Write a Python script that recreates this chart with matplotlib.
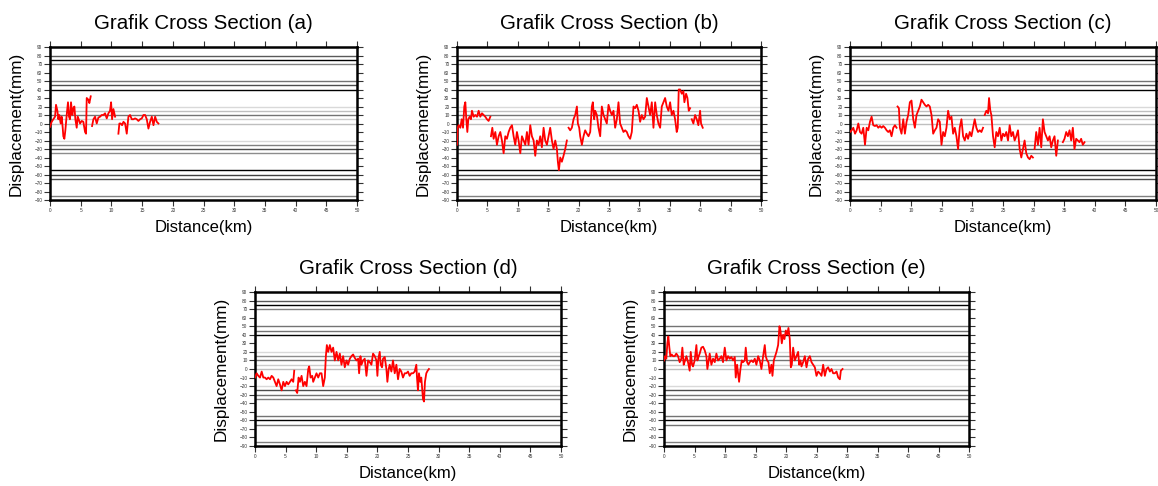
import numpy as np
import matplotlib.pyplot as plt

nan = np.nan

# panel (a)
dist_a = [0.0, 0.27, 0.54, 0.82, 0.98, 1.2, 1.36, 1.52, 1.74, 1.9, 2.07, 2.17, 2.34, 2.5, 2.72, 2.93,
          3.1, 3.26, 3.42, 3.64, 3.8, 3.97, 4.13, 4.35, 4.51, 4.67, 4.89, 5.16, 5.43, 5.71, 5.87, 5.98,
          6.25, 6.41, 6.63, 6.75, 6.85, 7.07, 7.34, 7.61, 7.88, 8.15, 8.42, 8.7, 8.97, 9.24, 9.51, 9.78,
          9.95, 10.11, 10.33, 10.6, 10.9, 11.14, 11.3, 11.52, 11.74, 11.96, 12.23, 12.5, 12.77, 13.04,
          13.32, 13.59, 13.86, 14.13, 14.4, 14.67, 14.95, 15.22, 15.49, 15.76, 16.03, 16.3, 16.58,
          16.85, 17.12, 17.39, 17.66]
disp_a = [-4, 2, 5, 8, 22, 15, 5, 10, 0, 8, -5, -15, -18, -8, 10, 25,
          8, 5, 25, 10, 18, 20, 5, -5, 8, 5, 0, 3, 2, -10, -12, 30,
          28, 24, 32, nan, -3, 5, 8, 0, 7, 8, 10, 10, 12, 6, 12, 15,
          25, 5, 17, 8, nan, -12, 0, 0, -2, 2, 0, -12, 8, 10,
          5, 5, 6, 5, 3, 5, 6, 10, 10, 5, -6, 2, 8,
          -2, 8, 2, 0]

# panel (b)
dist_b = [0, 0.11, 0.27, 0.55, 0.77, 0.99, 1.2, 1.37, 1.53, 1.7, 1.86, 2.08, 2.3, 2.46, 2.74, 3.01,
          3.29, 3.56, 3.83, 4.11, 4.38, 4.65, 4.93, 5.2, 5.48, 5.54, 5.59, 5.81, 6.02, 6.3, 6.57, 6.85,
          7.12, 7.39, 7.67, 7.94, 8.21, 8.49, 8.76, 9.04, 9.31, 9.58, 9.86, 10.13, 10.41, 10.68,
          10.95, 11.23, 11.5, 11.77, 12.05, 12.32, 12.6, 12.87, 13.14, 13.42, 13.69, 13.96, 14.24,
          14.51, 14.79, 15.06, 15.33, 15.61, 15.88, 16.16, 16.43, 16.59, 16.76, 16.98, 17.25, 17.52,
          17.8, 18.07, 18.2, 18.35, 18.62, 18.89, 19.17, 19.44, 19.72, 19.88, 20.1, 20.26, 20.54,
          20.81, 21.08, 21.36, 21.63, 21.91, 22.18, 22.34, 22.56, 22.73, 23.0, 23.27, 23.55, 23.82,
          24.1, 24.37, 24.64, 24.92, 25.19, 25.47, 25.74, 26.01, 26.29, 26.56, 26.83, 27.11, 27.38,
          27.66, 27.93, 28.2, 28.48, 28.75, 29.03, 29.3, 29.57, 29.85, 30.12, 30.39, 30.67, 30.94,
          31.22, 31.49, 31.76, 32.04, 32.31, 32.59, 32.86, 33.13, 33.41, 33.68, 33.95, 34.23, 34.5,
          34.78, 35.05, 35.32, 35.6, 35.87, 36.14, 36.31, 36.47, 36.69, 36.97, 37.24, 37.4, 37.68,
          37.9, 38.12, 38.34, 38.48, 38.61, 38.88, 39.16, 39.43, 39.7, 39.98, 40.14, 40.42]
disp_b = [-25, -5, -2, -5, 5, -5, 20, 25, 5, -10, 5, 8, 5, 15, 8, 10,
          8, 15, 8, 12, 10, 8, 5, 3, 8, nan, -15, -5, -18, -10, -25, -15,
          -10, -20, -35, -15, -18, -10, -5, -2, -15, -25, -10, -20, -35, -15,
          -20, -25, -10, -25, -2, -15, -20, -38, -20, -25, -15, -28, -5,
          -20, -25, -15, -5, -20, -30, -20, -30, -45, -55, -40, -45, -38,
          -30, -20, nan, -5, -8, -5, 5, 10, 20, 0, -5, -15, -25,
          -15, -8, -12, -15, -10, 20, 25, 5, 15, 10, -5, -15, 20,
          10, 5, 0, 22, 15, 10, 15, -5, 5, 25, 0, -5, -10,
          -8, -10, -15, -18, -10, 20, 18, 22, 15, 2, 10, 5, 8,
          30, 20, 10, 25, -5, 25, 10, 0, -5, 20, 25, 30, 20,
          15, 25, 10, 15, 5, -10, -5, 40, 40, 35, 38, 25, 35,
          30, 15, 18, nan, 5, 0, 10, 5, -2, 15, 0, -5]

# panel (c)
dist_c = [0, 0.27, 0.54, 0.82, 1.09, 1.36, 1.63, 1.9, 2.17, 2.45, 2.72, 2.99, 3.26, 3.53, 3.8, 4.08,
          4.35, 4.62, 4.89, 5.16, 5.43, 5.71, 5.98, 6.25, 6.52, 6.79, 7.07, 7.34, 7.61, 7.7, 7.77,
          7.99, 8.15, 8.42, 8.7, 8.97, 9.24, 9.51, 9.78, 10.05, 10.33, 10.6, 10.87, 11.14, 11.41,
          11.68, 11.96, 12.23, 12.5, 12.77, 13.04, 13.32, 13.59, 13.86, 14.13, 14.4, 14.67, 14.95,
          15.22, 15.49, 15.76, 16.03, 16.3, 16.58, 16.85, 17.12, 17.39, 17.66, 17.93, 18.21, 18.48,
          18.75, 19.02, 19.29, 19.57, 19.84, 20.11, 20.38, 20.65, 20.92, 21.2, 21.47, 21.74, 21.88,
          22.01, 22.28, 22.55, 22.72, 22.93, 23.1, 23.37, 23.64, 23.91, 24.18, 24.46, 24.73, 25.0,
          25.27, 25.54, 25.82, 26.09, 26.36, 26.63, 26.9, 27.17, 27.45, 27.72, 27.99, 28.26, 28.53,
          28.8, 29.08, 29.35, 29.62, 29.89, 30.03, 30.16, 30.43, 30.71, 30.98, 31.25, 31.52, 31.79,
          32.07, 32.34, 32.61, 32.88, 33.15, 33.42, 33.7, 33.97, 34.5, 34.78, 35.05, 35.33, 35.6,
          35.87, 36.14, 36.41, 36.68, 36.96, 37.23, 37.5, 37.77, 38.04, 38.32]
disp_c = [-10, -8, -5, -12, -8, 0, -10, -12, -5, -25, -5, -8, 2, 8, -2, -3,
          -2, -5, -3, -5, -3, -5, -8, -10, -8, -15, -5, -2, -5, nan, 20,
          18, -5, -12, 5, -12, 2, 10, 25, 27, 5, -5, 10, 15, 20,
          28, 25, 22, 20, 22, 20, 10, -12, -8, -5, 5, 2, -25,
          -10, -15, -5, 15, 5, 8, -12, -5, -15, -30, -5, 5, -15,
          -20, -12, -18, -10, -15, -5, 5, -5, -10, -8, -10, -5, nan,
          10, 15, 12, 30, 15, 10, -15, -28, -10, -15, -5, -20, -12,
          -15, -10, -20, -2, -15, -10, -20, -15, -8, -30, -40, -30, -20,
          -35, -40, -42, -38, -40, nan, -30, -10, -25, -5, -28, 5, -10,
          -15, -20, -15, -28, -20, -15, -38, -20, nan, -22, -18, -10, -15,
          -8, -20, -5, -30, -18, -20, -22, -18, -25, -22]

# panel (d)
dist_d = [0, 0.27, 0.54, 0.82, 1.09, 1.36, 1.63, 1.9, 2.17, 2.45, 2.72, 2.99, 3.26, 3.53, 3.8, 4.08,
          4.35, 4.62, 4.89, 5.16, 5.43, 5.71, 5.98, 6.25, 6.41, 6.55, 6.68, 6.9, 7.12, 7.34, 7.61,
          7.88, 8.15, 8.42, 8.7, 8.86, 9.08, 9.35, 9.51, 9.78, 10.05, 10.33, 10.6, 10.87, 11.14,
          11.41, 11.58, 11.74, 11.96, 12.23, 12.5, 12.77, 13.04, 13.32, 13.59, 13.86, 14.13, 14.4,
          14.67, 14.95, 15.22, 15.49, 15.76, 16.03, 16.3, 16.58, 16.85, 17.01, 17.23, 17.39, 17.66,
          17.93, 18.21, 18.48, 18.75, 19.02, 19.29, 19.57, 19.84, 20.0, 20.16, 20.38, 20.54, 20.76,
          20.92, 21.2, 21.47, 21.63, 21.85, 22.01, 22.28, 22.55, 22.83, 23.1, 23.37, 23.64, 23.91,
          24.18, 24.46, 24.73, 25.0, 25.27, 25.54, 25.82, 26.09, 26.36, 26.47, 26.63, 26.79, 27.01,
          27.17, 27.45, 27.61, 27.77, 27.99, 28.21, 28.42]
disp_d = [-10, -5, -8, -10, -3, -10, -10, -12, -10, -12, -8, -10, -15, -20, -12, -18,
          -25, -15, -20, -15, -18, -15, -12, -15, -2, nan, -25, -28, -10, -15, -8,
          -20, -15, -20, 0, 3, -10, -8, -15, -10, -5, -10, -5, -5, -20,
          -10, 15, 28, 20, 28, 20, 25, 10, 20, 10, 18, 5, 15,
          2, 10, 5, 12, 15, 17, 13, 10, 12, -5, 15, 5, 10,
          12, -8, 10, 8, 5, 18, 15, 10, -8, 12, 20, 5, 2,
          12, 14, 0, -15, 0, 5, -3, 10, -5, 5, -12, 0, -3,
          -10, -5, -5, -3, -8, -5, -5, -3, 5, -10, -25, -5, -15,
          -10, -35, -38, -15, -5, -2, 0]

# panel (e)
dist_e = [0, 0.16, 0.38, 0.55, 0.71, 0.88, 1.04, 1.26, 1.48, 1.75, 2.02, 2.3, 2.57, 2.84, 3.01, 3.23,
          3.45, 3.67, 3.94, 4.21, 4.38, 4.6, 4.76, 5.03, 5.31, 5.47, 5.69, 5.85, 6.13, 6.4, 6.67,
          6.95, 7.11, 7.33, 7.49, 7.77, 8.04, 8.32, 8.59, 8.86, 9.14, 9.41, 9.68, 9.96, 10.23, 10.5,
          10.78, 11.05, 11.32, 11.6, 11.76, 11.98, 12.14, 12.31, 12.53, 12.75, 12.96, 13.24, 13.4,
          13.62, 13.84, 14.06, 14.33, 14.61, 14.88, 15.15, 15.43, 15.7, 15.97, 16.25, 16.52, 16.68,
          16.9, 17.12, 17.34, 17.61, 17.78, 18.0, 18.22, 18.44, 18.71, 18.93, 19.09, 19.31, 19.53,
          19.75, 19.97, 20.19, 20.4, 20.62, 20.79, 20.95, 21.17, 21.44, 21.72, 21.99, 22.16, 22.37,
          22.54, 22.81, 23.09, 23.36, 23.63, 23.91, 24.18, 24.45, 24.73, 25.0, 25.27, 25.55, 25.82,
          26.09, 26.37, 26.64, 26.91, 27.19, 27.46, 27.73, 28.01, 28.28, 28.56, 28.83, 28.99, 29.27]
disp_e = [10, 15, 12, 30, 38, 25, 15, 17, 15, 15, 18, 15, 8, 12, 25, 5,
          10, 15, 8, -2, 20, 5, 3, 10, 28, 10, 15, 18, 25, 26, 22,
          15, 0, 10, 18, 5, 12, 8, 18, 10, 12, 15, 8, 25, 10, 15,
          12, 14, 10, 14, -10, 5, -5, -15, 0, 10, 8, 10, 25,
          8, 5, 8, 10, 8, 12, 5, 15, 10, 0, 15, 28, 15,
          10, 8, -5, 5, -8, 10, 15, 20, 28, 50, 45, 30, 40,
          35, 45, 40, 48, 35, 2, 5, 25, 10, 15, 20, 5, 10,
          3, 8, 15, 2, 12, 15, 8, 5, 2, -8, -3, -5, -8,
          5, -8, 0, 2, -3, 0, -5, -5, -3, -10, -12, -2, 0]

titles = ['Grafik Cross Section (a)', 'Grafik Cross Section (b)', 'Grafik Cross Section (c)',
          'Grafik Cross Section (d)', 'Grafik Cross Section (e)']
series = [(dist_a, disp_a), (dist_b, disp_b), (dist_c, disp_c), (dist_d, disp_d), (dist_e, disp_e)]

# background horizontal lines (level, grey value)
band_levels = [80, 75, 70, 50, 45, 40, 20, 15, 10, 5, 0, -20, -25, -30, -35, -55, -60, -65, -85]
band_top = [0.35, 0.0, 0.5, 0.45, 0.3, 0.0, 0.85, 0.75, 0.45, 0.8, 0.75, 0.85, 0.5, 0.3, 0.55, 0.0, 0.25, 0.3, 0.5]
band_bot = [0.35, 0.0, 0.5, 0.45, 0.45, 0.0, 0.85, 0.55, 0.45, 0.8, 0.75, 0.85, 0.3, 0.45, 0.5, 0.45, 0.0, 0.45, 0.5]

W, H = 1158, 486
fig = plt.figure(figsize=(W / 100, H / 100), dpi=100)
plt.rcParams['font.family'] = ['Liberation Sans', 'DejaVu Sans']

# axes boxes in pixels: left, top, right, bottom
boxes = [(50, 47, 357, 200), (457, 47, 761, 200), (850, 47, 1156, 200),
         (255, 292, 561, 446), (664, 292, 969, 446)]

for i, (box, title, (xd, yd)) in enumerate(zip(boxes, titles, series)):
    l, t, r, b = box
    ax = fig.add_axes([l / W, 1 - b / H, (r - l) / W, (b - t) / H])
    shades = band_top if i < 3 else band_bot
    for lev, g in zip(band_levels, shades):
        ax.axhline(lev, color=str(g), lw=1.0, zorder=1)
    ax.plot(xd, yd, color='red', lw=1.3, zorder=3)
    ax.set_xlim(0, 50)
    ax.set_ylim(-90, 90)
    ax.set_xticks(np.arange(0, 51, 5))
    ax.set_yticks(np.arange(-90, 91, 10))
    ax.tick_params(direction='out', length=4, width=0.8, labelsize=3.4, colors='#333333',
                   top=True, right=True, pad=1.5)
    for sp in ax.spines.values():
        sp.set_linewidth(1.8)
    ax.set_title(title, fontsize=14.8, pad=13)
    ax.set_xlabel('Distance(km)', fontsize=12, labelpad=5)
    ax.set_ylabel('Displacement(mm)', fontsize=12.3, labelpad=8)

plt.savefig('out.png', dpi=100)
